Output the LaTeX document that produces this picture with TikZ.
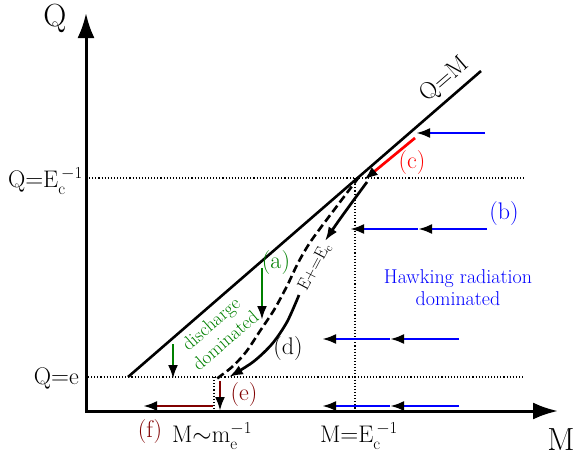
\documentclass[tikz,border=0pt]{standalone}
\usepackage{fontspec}
\setmainfont{Latin Modern Roman}
\usetikzlibrary{arrows.meta}
\definecolor{dgreen}{RGB}{0,128,0}
\definecolor{dred}{RGB}{128,0,0}
\begin{document}
\begin{tikzpicture}[x=1pt,y=-1pt,
  axis/.style={line width=3pt,{Latex[length=25pt,width=17pt]}-{Latex[length=25pt,width=17pt]}},
  guide/.style={line width=1.1pt,dotted},
  flow/.style={line width=2.7pt,-{Latex[length=14pt,width=10pt,color=black]}},
  lab/.style={font=\fontsize{24}{27}\selectfont,inner sep=0pt},
  txt/.style={font=\fontsize{20}{22}\selectfont,inner sep=0pt,align=center}]
\useasboundingbox (0,0) rectangle (574,455);
% axes
\coordinate (O) at (86,411);
\coordinate (Qtip) at (86,13);
\coordinate (Mtip) at (558,411);
\draw[axis,line join=miter] (Qtip) -- (O) -- (Mtip);
\node[font=\fontsize{32}{34}\selectfont,inner sep=0pt] (Qlab) at (55,18) {Q};
\node[font=\fontsize{32}{34}\selectfont,inner sep=0pt] (Mlab) at (561,440) {M};
% guides
\coordinate (g1a) at (86,178); \coordinate (g1b) at (525,178);
\coordinate (g2a) at (88,377); \coordinate (g2b) at (525,377);
\coordinate (g3a) at (355,178); \coordinate (g3b) at (355,411);
\coordinate (g4a) at (214,377); \coordinate (g4b) at (214,411);
\draw[guide] (g1a) -- (g1b);
\draw[guide] (g2a) -- (g2b);
\draw[guide] (g3a) -- (g3b);
\draw[guide] (g4a) -- (g4b);
\node[lab,anchor=east] (QEc) at (83,181) {Q$=$E$_{\mathrm{c}}^{\,\mathrm{-1}}$};
\node[lab,anchor=east] (Qe) at (79,378) {Q$=$e};
\node[lab] (Mme) at (212,436) {M$\sim$m$_{\mathrm{e}}^{\mathrm{-1}}$};
\node[lab] (MEc) at (359,436) {M$=$E$_{\mathrm{c}}^{\,\mathrm{-1}}$};
% Q=M line
\coordinate (L1) at (128,377); \coordinate (L2) at (481,71);
\draw[line width=2.6pt] (L1) -- (L2);
\node[lab,rotate=41] (QM) at (445,80) {Q$=$M};
% dashed E+=Ec curve
\draw[line width=2.6pt,dash pattern=on 8pt off 4pt] plot[smooth,tension=0.5] coordinates {(359,177) (334,210) (311,241) (298,263) (287,286) (274,310) (260,331) (246,352) (232,367) (215,380)};
\node[font=\fontsize{17}{19}\selectfont,inner sep=1pt,rotate=62] (Eplus) at (315,267) {E$+{=}$E$_{\mathrm{c}}$};
% solid (d) curves
\draw[flow] (367,182) .. controls (353,201) and (339,220) .. (325,241);
\draw[flow] plot[smooth,tension=0.5] coordinates {(299,295) (287,322) (272,344) (253,362) (229,377)};
\node[lab] (d) at (288,349) {(d)};
% green
\coordinate (a1) at (262,268); \coordinate (a2) at (262,320);
\draw[flow,draw=dgreen] (a1) -- (a2);
\node[lab,text=dgreen] (alab) at (276,263) {(a)};
\coordinate (a3) at (173,344); \coordinate (a4) at (173,379);
\draw[flow,draw=dgreen] (a3) -- (a4);
\node[txt,text=dgreen,rotate=41,font=\fontsize{19}{22}\selectfont] (disc) at (218,332) {discharge\\dominated};
% red (c)
\coordinate (c1) at (415,138); \coordinate (c2) at (364,180);
\draw[flow,draw=red] (c1) -- (c2);
\node[lab,text=red] (clab) at (412,163) {(c)};
% blue
\coordinate (b1) at (485,133); \coordinate (b2) at (416,133);
\draw[flow,draw=blue] (b1) -- (b2);
\coordinate (b3) at (487,229); \coordinate (b4) at (418,229); \coordinate (b5) at (350,229);
\draw[flow,draw=blue] (b3) -- (b4);
\draw[flow,draw=blue] (b4) -- (b5);
\coordinate (b6) at (459,339); \coordinate (b7) at (390,339); \coordinate (b8) at (322,339);
\draw[flow,draw=blue] (b6) -- (b7);
\draw[flow,draw=blue] (b7) -- (b8);
\coordinate (b9) at (459,406); \coordinate (b10) at (390,406); \coordinate (b11) at (322,406);
\draw[flow,draw=blue] (b9) -- (b10);
\draw[flow,draw=blue] (b10) -- (b11);
\node[lab,text=blue] (blab) at (504,214) {(b)};
\node[txt,text=blue] (hawk) at (458,288) {Hawking radiation\\dominated};
% dark red
\coordinate (e1) at (220,381); \coordinate (e2) at (220,411);
\draw[flow,draw=dred] (e1) -- (e2);
\node[lab,text=dred] (elab) at (244,395) {(e)};
\coordinate (f1) at (213,406); \coordinate (f2) at (143,406);
\draw[flow,draw=dred] (f1) -- (f2);
\node[lab,text=dred] (flab) at (150,432) {(f)};
\end{tikzpicture}
\end{document}
